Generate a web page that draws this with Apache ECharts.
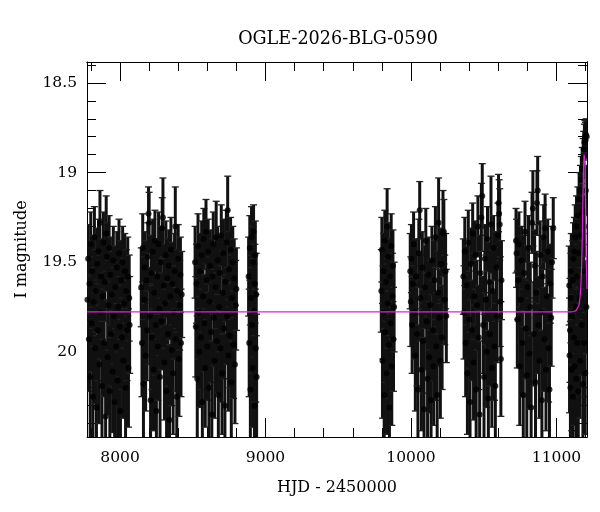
<!DOCTYPE html>
<html>
<head>
<meta charset="utf-8">
<title>OGLE-2026-BLG-0590</title>
<script src="https://cdn.jsdelivr.net/npm/echarts@6/dist/echarts.min.js"></script>
<style>
  html, body { margin: 0; padding: 0; background: #fff; }
  #chart { width: 600px; height: 512px; }
</style>
</head>
<body>
<div id="chart"></div>
<script>
// photometry per observing season: [HJD - 2450000, I mag, error]
const season1 = [
  [7776, 19.71, 0.24], [7781, 19.48, 0.19], [7786, 19.93, 0.29], [7790, 19.62, 0.22],
  [7795, 20.14, 0.35], [7799, 19.40, 0.18], [7805, 19.84, 0.27], [7810, 19.55, 0.20],
  [7814, 20.25, 0.38], [7819, 19.72, 0.25], [7824, 19.36, 0.17], [7829, 19.98, 0.31],
  [7833, 19.66, 0.23], [7838, 20.31, 0.40], [7843, 19.51, 0.20], [7848, 19.88, 0.28],
  [7852, 19.44, 0.18], [7857, 20.07, 0.33], [7862, 19.28, 0.18], [7866, 19.78, 0.26],
  [7871, 19.58, 0.21], [7876, 20.19, 0.36], [7881, 19.69, 0.24], [7886, 19.39, 0.17],
  [7891, 19.95, 0.30], [7896, 19.61, 0.22], [7901, 20.36, 0.41], [7905, 19.34, 0.21],
  [7910, 19.47, 0.19], [7915, 20.03, 0.32], [7920, 19.74, 0.25], [7925, 19.42, 0.18],
  [7930, 20.22, 0.37], [7934, 19.57, 0.21], [7939, 19.90, 0.29], [7944, 19.68, 0.24],
  [7949, 20.11, 0.34], [7954, 19.49, 0.19], [7959, 19.80, 0.27], [7963, 20.28, 0.39],
  [7968, 19.64, 0.23], [7973, 19.97, 0.30], [7978, 19.53, 0.20], [7983, 20.16, 0.35],
  [7988, 19.75, 0.25], [7993, 19.45, 0.19], [7998, 19.86, 0.28], [8003, 20.33, 0.40],
  [8008, 19.60, 0.22], [8013, 19.92, 0.29], [8018, 19.50, 0.20], [8023, 20.05, 0.32],
  [8028, 19.73, 0.25], [8033, 19.55, 0.21], [8038, 20.20, 0.36], [8043, 19.66, 0.23],
  [8048, 19.88, 0.28], [8053, 19.58, 0.22], [8058, 20.09, 0.33], [8063, 19.70, 0.24],
  [8066, 19.85, 0.27]
];
const season2 = [
  [8146, 19.64, 0.22], [8151, 19.95, 0.30], [8156, 19.42, 0.19], [8161, 20.18, 0.36],
  [8166, 19.71, 0.24], [8171, 19.53, 0.20], [8176, 20.02, 0.31], [8181, 19.60, 0.22],
  [8186, 19.88, 0.28], [8191, 19.47, 0.19], [8196, 19.23, 0.15], [8200, 19.28, 0.17],
  [8205, 19.80, 0.27], [8210, 20.27, 0.39], [8215, 19.56, 0.21], [8220, 19.92, 0.29],
  [8225, 19.44, 0.18], [8230, 20.10, 0.34], [8235, 19.67, 0.23], [8240, 19.38, 0.17],
  [8245, 19.85, 0.28], [8250, 20.33, 0.40], [8255, 19.58, 0.21], [8260, 19.97, 0.30],
  [8265, 19.40, 0.18], [8270, 19.76, 0.26], [8275, 20.14, 0.35], [8280, 19.50, 0.20],
  [8285, 19.83, 0.27], [8290, 19.31, 0.17], [8295, 19.25, 0.22], [8300, 19.63, 0.23],
  [8305, 20.06, 0.32], [8310, 19.73, 0.25], [8315, 19.46, 0.19], [8320, 20.22, 0.37],
  [8325, 19.59, 0.22], [8330, 19.90, 0.29], [8335, 19.52, 0.20], [8340, 20.38, 0.42],
  [8345, 19.69, 0.24], [8350, 19.43, 0.18], [8355, 19.99, 0.31], [8360, 19.62, 0.23],
  [8365, 20.12, 0.34], [8370, 19.78, 0.26], [8375, 19.55, 0.21], [8380, 19.30, 0.22],
  [8385, 19.93, 0.29], [8390, 20.25, 0.38], [8395, 19.66, 0.23], [8400, 19.48, 0.19],
  [8405, 20.04, 0.32], [8410, 19.74, 0.25], [8415, 19.57, 0.21], [8419, 19.95, 0.30],
  [8424, 19.68, 0.24]
];
const season3 = [
  [8516, 19.50, 0.20], [8521, 19.86, 0.28], [8526, 19.62, 0.22], [8531, 20.15, 0.35],
  [8536, 19.41, 0.18], [8541, 19.78, 0.26], [8546, 20.00, 0.31], [8551, 19.55, 0.21],
  [8556, 19.92, 0.29], [8561, 19.46, 0.19], [8566, 20.28, 0.39], [8571, 19.69, 0.24],
  [8576, 19.37, 0.17], [8581, 19.84, 0.27], [8586, 20.09, 0.33], [8591, 19.33, 0.18],
  [8596, 19.60, 0.22], [8601, 19.97, 0.30], [8606, 19.44, 0.18], [8611, 20.20, 0.36],
  [8616, 19.72, 0.25], [8621, 19.52, 0.20], [8626, 19.89, 0.28], [8631, 20.35, 0.41],
  [8636, 19.58, 0.21], [8641, 19.40, 0.18], [8646, 19.81, 0.27], [8651, 20.05, 0.32],
  [8656, 19.64, 0.23], [8661, 19.36, 0.20], [8666, 19.94, 0.29], [8671, 19.49, 0.19],
  [8676, 20.24, 0.37], [8681, 19.75, 0.25], [8686, 19.56, 0.21], [8691, 19.98, 0.30],
  [8696, 19.35, 0.17], [8701, 20.12, 0.34], [8706, 19.67, 0.23], [8711, 19.45, 0.19],
  [8716, 19.87, 0.28], [8721, 20.30, 0.40], [8726, 19.61, 0.22], [8731, 19.39, 0.18],
  [8736, 19.80, 0.27], [8740, 19.21, 0.19], [8745, 20.02, 0.31], [8750, 19.54, 0.21],
  [8755, 19.91, 0.29], [8760, 19.43, 0.18], [8765, 20.17, 0.35], [8770, 19.70, 0.24],
  [8775, 19.50, 0.20], [8780, 19.96, 0.30], [8785, 19.59, 0.22], [8790, 20.07, 0.33],
  [8795, 19.74, 0.25], [8800, 19.65, 0.23]
];
const season4 = [
  [8884, 19.58, 0.22], [8888, 19.95, 0.30], [8892, 19.42, 0.18], [8896, 20.21, 0.36],
  [8900, 19.70, 0.24], [8904, 19.36, 0.17], [8908, 19.85, 0.27], [8912, 20.09, 0.33],
  [8915, 19.50, 0.20], [8918, 19.33, 0.15], [8921, 19.77, 0.26], [8924, 20.30, 0.39],
  [8927, 19.62, 0.22], [8930, 19.46, 0.19], [8933, 19.98, 0.30], [8936, 19.68, 0.23],
  [8939, 20.14, 0.35]
];
const season5 = [
  [9796, 19.66, 0.23], [9800, 19.43, 0.18], [9804, 20.05, 0.32], [9808, 19.78, 0.26],
  [9812, 19.55, 0.21], [9816, 20.24, 0.37], [9820, 19.38, 0.17], [9824, 19.89, 0.28],
  [9828, 19.61, 0.22], [9832, 20.12, 0.34], [9836, 19.30, 0.21], [9840, 19.73, 0.25],
  [9844, 19.47, 0.19], [9848, 19.96, 0.30], [9852, 20.31, 0.40], [9856, 19.58, 0.21],
  [9860, 19.84, 0.27], [9864, 19.41, 0.18], [9868, 20.08, 0.33], [9872, 19.69, 0.24],
  [9876, 19.52, 0.20], [9880, 19.93, 0.29], [9884, 19.75, 0.25]
];
const season6 = [
  [9995, 19.55, 0.21], [9999, 19.72, 0.25], [10003, 19.48, 0.19], [10008, 19.85, 0.27],
  [10013, 19.62, 0.22], [10018, 19.40, 0.18], [10024, 19.78, 0.26], [10030, 20.02, 0.31],
  [10036, 19.58, 0.21], [10042, 19.90, 0.29], [10048, 20.21, 0.36], [10054, 19.45, 0.19],
  [10060, 19.21, 0.16], [10066, 19.70, 0.24], [10072, 20.10, 0.34], [10078, 19.53, 0.20],
  [10084, 19.94, 0.29], [10090, 20.32, 0.40], [10096, 19.64, 0.23], [10102, 19.38, 0.18],
  [10108, 19.83, 0.27], [10114, 20.15, 0.35], [10120, 19.57, 0.21], [10126, 20.03, 0.31],
  [10132, 19.74, 0.25], [10138, 20.27, 0.39], [10144, 19.49, 0.19], [10150, 19.88, 0.28],
  [10156, 20.08, 0.33], [10162, 19.60, 0.22], [10168, 19.36, 0.17], [10174, 19.97, 0.30],
  [10180, 20.24, 0.38], [10186, 19.67, 0.23], [10190, 19.28, 0.25], [10196, 19.81, 0.27],
  [10202, 20.05, 0.32], [10208, 19.51, 0.20], [10214, 19.92, 0.29], [10220, 19.34, 0.24],
  [10226, 19.33, 0.18], [10232, 19.71, 0.25], [10238, 19.55, 0.21], [10243, 19.80, 0.26]
];
const season7 = [
  [10360, 19.58, 0.21], [10365, 19.78, 0.26], [10370, 19.44, 0.19], [10376, 19.95, 0.30],
  [10382, 19.63, 0.22], [10388, 20.12, 0.34], [10394, 19.39, 0.18], [10400, 19.82, 0.27],
  [10406, 20.28, 0.39], [10412, 19.51, 0.20], [10418, 19.88, 0.28], [10424, 19.34, 0.17],
  [10430, 20.06, 0.32], [10436, 19.69, 0.24], [10442, 19.46, 0.19], [10448, 20.21, 0.36],
  [10454, 19.74, 0.25], [10460, 19.30, 0.17], [10466, 19.92, 0.29], [10472, 20.35, 0.41],
  [10478, 19.56, 0.21], [10484, 19.25, 0.19], [10490, 19.13, 0.18], [10496, 19.85, 0.27],
  [10502, 20.14, 0.35], [10508, 19.48, 0.19], [10514, 19.71, 0.25], [10520, 20.00, 0.31],
  [10526, 19.37, 0.18], [10532, 20.26, 0.38], [10538, 19.61, 0.22], [10544, 19.90, 0.29],
  [10550, 19.29, 0.27], [10556, 20.09, 0.33], [10562, 19.66, 0.23], [10568, 19.42, 0.18],
  [10574, 19.97, 0.30], [10580, 20.19, 0.36], [10586, 19.53, 0.20], [10592, 19.80, 0.26],
  [10598, 19.35, 0.18], [10602, 19.17, 0.16], [10606, 19.23, 0.19], [10610, 19.29, 0.20],
  [10614, 19.72, 0.25], [10618, 20.04, 0.32], [10622, 19.60, 0.22]
];
const season8 = [
  [10722, 19.38, 0.18], [10726, 19.45, 0.19], [10731, 19.82, 0.27], [10737, 19.60, 0.22],
  [10742, 19.40, 0.18], [10748, 20.08, 0.33], [10754, 19.71, 0.24], [10760, 19.49, 0.19],
  [10766, 19.95, 0.30], [10772, 20.24, 0.38], [10778, 19.56, 0.21], [10784, 19.33, 0.17],
  [10790, 19.87, 0.28], [10796, 20.13, 0.35], [10802, 19.64, 0.23], [10808, 19.42, 0.18],
  [10814, 20.01, 0.31], [10820, 19.75, 0.25], [10826, 20.31, 0.40], [10832, 19.28, 0.17],
  [10838, 19.20, 0.21], [10844, 19.90, 0.29], [10850, 19.52, 0.20], [10856, 20.17, 0.36],
  [10862, 19.67, 0.23], [10866, 19.17, 0.18], [10871, 19.10, 0.19], [10876, 19.85, 0.27],
  [10882, 20.05, 0.32], [10888, 19.46, 0.19], [10894, 19.78, 0.26], [10900, 20.27, 0.39],
  [10906, 19.58, 0.21], [10912, 19.36, 0.18], [10918, 19.93, 0.29], [10922, 19.31, 0.19],
  [10928, 20.10, 0.34], [10934, 19.69, 0.24], [10940, 19.44, 0.18], [10946, 19.98, 0.30],
  [10952, 20.21, 0.37], [10958, 19.62, 0.22], [10964, 19.81, 0.27], [10970, 19.50, 0.20],
  [10978, 19.31, 0.17]
];
const season9 = [
  [11088, 19.63, 0.22], [11090, 20.02, 0.32], [11093, 19.88, 0.29], [11096, 20.20, 0.37],
  [11099, 19.70, 0.25], [11102, 19.55, 0.21], [11105, 20.10, 0.34], [11108, 19.80, 0.27],
  [11111, 19.60, 0.22], [11114, 20.25, 0.38], [11117, 19.48, 0.20], [11120, 19.92, 0.29],
  [11123, 19.44, 0.19], [11126, 20.08, 0.33], [11129, 19.36, 0.18], [11132, 19.75, 0.26],
  [11135, 20.15, 0.35], [11138, 19.30, 0.17], [11141, 19.58, 0.21], [11144, 19.95, 0.30],
  [11147, 19.24, 0.16], [11150, 20.22, 0.37], [11153, 19.45, 0.19], [11156, 19.15, 0.15],
  [11159, 19.70, 0.25], [11162, 20.05, 0.32], [11165, 19.10, 0.14], [11168, 19.35, 0.18],
  [11171, 19.04, 0.13], [11174, 19.85, 0.28], [11177, 18.98, 0.12], [11180, 19.22, 0.16],
  [11182, 20.18, 0.36], [11184, 18.92, 0.11], [11186, 19.55, 0.21], [11188, 18.87, 0.10],
  [11190, 19.95, 0.30], [11192, 18.83, 0.10], [11194, 19.30, 0.17], [11196, 18.80, 0.09],
  [11198, 20.12, 0.34], [11200, 18.82, 0.10], [11202, 19.10, 0.14], [11204, 18.79, 0.09],
  [11206, 19.75, 0.26], [11208, 18.80, 0.09]
];

// microlensing model curve
const modelHjd = [7773, 11100, 11120, 11135, 11145, 11155, 11162, 11168, 11173, 11178, 11182, 11186, 11190, 11193, 11197, 11201, 11205, 11210];
const modelMag = [19.777, 19.777, 19.775, 19.77, 19.76, 19.74, 19.70, 19.63, 19.53, 19.35, 19.15, 18.98, 18.90, 18.89, 18.95, 19.25, 19.50, 19.65];

// axis ticks
const xMajorTicks = [8000, 9000, 10000, 11000];
const xMinorTicks = [7800, 8200, 8400, 8600, 8800, 9200, 9400, 9600, 9800, 10200, 10400, 10600, 10800, 11200];
const yMajorTicks = [18.5, 19, 19.5, 20];
const yMinorTicks = [18.4, 18.6, 18.7, 18.8, 18.9, 19.1, 19.2, 19.3, 19.4, 19.6, 19.7, 19.8, 19.9, 20.1, 20.2, 20.3, 20.4];

const X_MIN = 7773, X_MAX = 11210;
const Y_MIN = 18.383, Y_MAX = 20.475;
const FONT = "DejaVu Serif";

const photometry = [].concat(season1, season2, season3, season4, season5, season6, season7, season8, season9);

function xAxisDef(position, ticks, length, withLabels) {
  return {
    type: "value",
    position: position,
    min: X_MIN,
    max: X_MAX,
    splitLine: { show: false },
    axisLine: { show: withLabels || position === "top", lineStyle: { color: "#000", width: 1 } },
    axisTick: { inside: true, length: length, customValues: ticks, lineStyle: { color: "#000", width: 1 } },
    axisLabel: withLabels && position === "bottom"
      ? { customValues: ticks, formatter: (v) => String(v), color: "#000", fontFamily: FONT, fontSize: 15.5, margin: 13 }
      : { show: false },
  };
}

function yAxisDef(position, ticks, length, withLabels) {
  return {
    type: "value",
    position: position,
    inverse: true,
    min: Y_MIN,
    max: Y_MAX,
    splitLine: { show: false },
    axisLine: { show: withLabels || position === "right", lineStyle: { color: "#000", width: 1 } },
    axisTick: { inside: true, length: length, customValues: ticks, lineStyle: { color: "#000", width: 1 } },
    axisLabel: withLabels && position === "left"
      ? { customValues: ticks, formatter: (v) => String(v), color: "#000", fontFamily: FONT, fontSize: 15.5, margin: 10 }
      : { show: false },
  };
}

const chart = echarts.init(document.getElementById("chart"));

const xBottom = xAxisDef("bottom", xMajorTicks, 19, true);
xBottom.name = "HJD - 2450000";
xBottom.nameLocation = "middle";
xBottom.nameGap = 43;
xBottom.nameTextStyle = { color: "#000", fontFamily: FONT, fontSize: 16 };

const yLeft = yAxisDef("left", yMajorTicks, 19, true);
yLeft.name = "I magnitude";
yLeft.nameLocation = "middle";
yLeft.nameGap = 57;
yLeft.nameTextStyle = { color: "#000", fontFamily: FONT, fontSize: 16 };

chart.setOption({
  animation: false,
  backgroundColor: "#fff",
  title: {
    text: "OGLE-2026-BLG-0590",
    left: 333,
    top: 25,
    textAlign: "center",
    textStyle: { color: "#000", fontFamily: FONT, fontSize: 17.6, fontWeight: "normal" },
  },
  grid: { left: 87, right: 13, top: 62, bottom: 75, containLabel: false, outerBoundsMode: "none" },
  xAxis: [
    xBottom,
    xAxisDef("bottom", xMinorTicks, 9, false),
    xAxisDef("top", xMajorTicks, 19, false),
    xAxisDef("top", xMinorTicks, 9, false),
  ],
  yAxis: [
    yLeft,
    yAxisDef("left", yMinorTicks, 9, false),
    yAxisDef("right", yMajorTicks, 19, false),
    yAxisDef("right", yMinorTicks, 9, false),
  ],
  series: [
    {
      name: "error bars",
      type: "custom",
      clip: true,
      data: photometry,
      renderItem: (params, api) => {
        const t = api.value(0);
        const m = api.value(1);
        const e = api.value(2);
        const hi = api.coord([t, m - e]);
        const lo = api.coord([t, m + e]);
        const stroke = { stroke: "#111", lineWidth: 3 };
        const cap = { stroke: "#222", lineWidth: 1.3 };
        return {
          type: "group",
          children: [
            { type: "line", shape: { x1: hi[0], y1: hi[1], x2: lo[0], y2: lo[1] }, style: stroke },
            { type: "line", shape: { x1: hi[0] - 3.5, y1: hi[1], x2: hi[0] + 3.5, y2: hi[1] }, style: cap },
            { type: "line", shape: { x1: lo[0] - 3.5, y1: lo[1], x2: lo[0] + 3.5, y2: lo[1] }, style: cap },
          ],
        };
      },
      z: 2,
    },
    {
      name: "photometry",
      type: "scatter",
      data: photometry.map((p) => [p[0], p[1]]),
      symbol: "circle",
      symbolSize: 6,
      itemStyle: { color: "#000" },
      clip: true,
      z: 3,
    },
    {
      name: "model",
      type: "line",
      data: modelHjd.map((t, i) => [t, modelMag[i]]),
      showSymbol: false,
      symbol: "none",
      clip: true,
      lineStyle: { color: "#e020e0", width: 1.2 },
      z: 4,
    },
  ],
});
</script>
</body>
</html>
